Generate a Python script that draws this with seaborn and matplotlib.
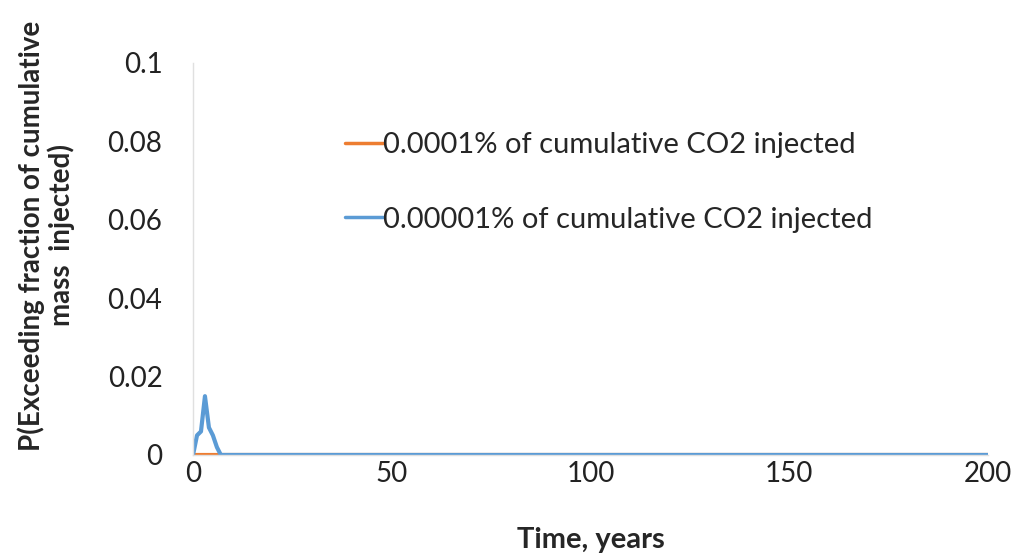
import numpy as np
import pandas as pd
import seaborn as sns
import matplotlib.pyplot as plt

# years and probabilities
years = [0, 1, 2, 3, 4, 5, 6, 7, 10, 25, 50, 75, 100, 125, 150, 175, 200]
p_high = [0, 0, 0, 0, 0, 0, 0, 0, 0, 0, 0, 0, 0, 0, 0, 0, 0]
p_low = [0, 0.005, 0.006, 0.015, 0.007, 0.005, 0.002, 0, 0, 0, 0, 0, 0, 0, 0, 0, 0]
series_names = ['0.0001% of cumulative CO2 injected',
                '0.00001% of cumulative CO2 injected']
x_ticks = [0, 50, 100, 150, 200]
y_ticks = [0, 0.02, 0.04, 0.06, 0.08, 0.1]
y_tick_labels = ['0', '0.02', '0.04', '0.06', '0.08', '0.1']

df = pd.DataFrame({
    'Time': years * 2,
    'P': p_high + p_low,
    'Series': [series_names[0]] * len(years) + [series_names[1]] * len(years),
})

sns.set_style('white')
plt.rcParams['font.family'] = ['Lato', 'DejaVu Sans']

fig = plt.figure(figsize=(10.17, 5.56), dpi=100)
ax = fig.add_axes([0.1898, 0.1817, 0.7817, 0.705])

sns.lineplot(data=df, x='Time', y='P', hue='Series',
             palette=['#ED7D31', '#5B9BD5'], linewidth=3, ax=ax)

ax.set_xlim(0, 200)
ax.set_ylim(0, 0.1)
ax.set_xticks(x_ticks)
ax.set_yticks(y_ticks)
ax.set_yticklabels(y_tick_labels)
ax.tick_params(axis='both', length=0, labelsize=20, colors='#222222')
ax.tick_params(axis='y', pad=22)
ax.tick_params(axis='x', pad=4)

for side in ['top', 'right']:
    ax.spines[side].set_visible(False)
for side in ['left', 'bottom']:
    ax.spines[side].set_color('#e0e0e0')
    ax.spines[side].set_linewidth(1)

ax.set_xlabel('Time, years', fontsize=21, fontweight='bold')
ax.xaxis.set_label_coords(0.5, -0.185)
ax.set_ylabel('P(Exceeding fraction of cumulative\nmass  injected)',
              fontsize=20, fontweight='bold', linespacing=1.1)
ax.yaxis.set_label_coords(-0.149, 0.56)

leg = ax.legend(loc='center left', bbox_to_anchor=(0.191, 0.695), frameon=False,
                fontsize=21, handlelength=1.3, handletextpad=0.0,
                labelspacing=1.65, borderaxespad=0, borderpad=0)
for line in leg.get_lines():
    line.set_linewidth(2.5)

plt.savefig('out.png', dpi=100)
